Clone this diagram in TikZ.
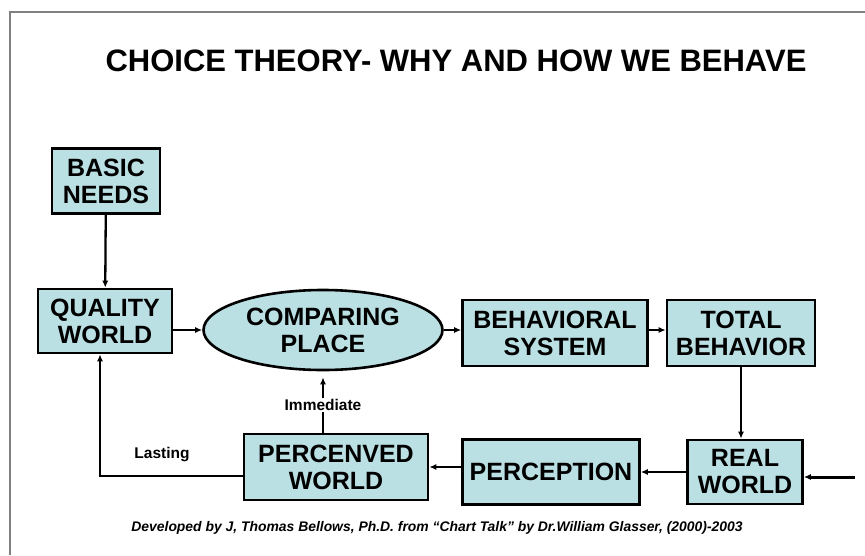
\documentclass[tikz,border=0pt]{standalone}
\usepackage{fontspec}
\setmainfont{Liberation Sans}
\usetikzlibrary{shapes.geometric,arrows.meta}
\definecolor{boxfill}{RGB}{186,224,227}
\definecolor{framegray}{RGB}{128,128,128}
\begin{document}
\begin{tikzpicture}[x=1pt,y=-1pt,
  stagebox/.style={draw=black,line width=2.6pt,fill=boxfill,inner sep=0pt,
    align=center,font=\bfseries\fontsize{25}{27}\selectfont},
  stageoval/.style={stagebox,ellipse},
  flow/.style={line width=2.3pt,-{Latex[length=7pt,width=6pt]}},
  plain/.style={line width=2.3pt},
  note/.style={font=\bfseries\fontsize{15.5}{17}\selectfont,inner sep=1pt}]
\useasboundingbox (0,0) rectangle (865,555);
% page frame
\draw[framegray,line width=2.2pt] (10,555) -- (10,12) -- (865,12);

% title and credit line
\node (title) at (456,61) {\bfseries\fontsize{31}{34}\selectfont CHOICE THEORY- WHY AND HOW WE BEHAVE};
\node (credit) at (437,528) {\bfseries\itshape\fontsize{13.9}{16}\selectfont Developed by J, Thomas Bellows, Ph.D. from “Chart Talk” by Dr.William Glasser, (2000)-2003};

% stages
\node[stagebox,minimum width=108,minimum height=65] (bn) at (106,181) {BASIC\\NEEDS};
\node[stagebox,minimum width=134,minimum height=64] (qw) at (105,321) {QUALITY\\WORLD};
\node[stageoval,minimum width=239,minimum height=80] (cmp) at (323,330) {COMPARING\\PLACE};
\node[stagebox,minimum width=185,minimum height=66] (bs) at (555,333) {BEHAVIORAL\\SYSTEM};
\node[stagebox,minimum width=148,minimum height=66] (tb) at (741,333) {TOTAL\\BEHAVIOR};
\node[stagebox,minimum width=115,minimum height=64] (rw) at (745,472) {REAL\\WORLD};
\node[stagebox,minimum width=177,minimum height=65] (pc) at (551,472) {PERCEPTION};
\node[stagebox,minimum width=184,minimum height=66] (pw) at (336,467) {PERCENVED\\WORLD};

% labels on the feedback paths
\node[note] (imm) at (323,405) {Immediate};
\node[note] (last) at (162,455) {Lasting};
\coordinate (ext) at (855,477);

% connectors
\draw[flow] (bn) -- (qw);
\draw[flow] (qw.east |- cmp.west) -- (cmp.west);
\draw[flow] (cmp.east) -- (cmp.east -| bs.west);
\draw[flow] (bs.east |- cmp.east) -- (tb.west |- cmp.east);
\draw[flow] (tb.south) -- (tb.south |- rw.north);
\draw[flow] (rw.west) -- (rw.west -| pc.east);
\draw[flow] (pw.east -| pc.west) -- (pw.east);
\draw[flow,line width=3pt] (ext) -- (ext -| rw.east);
\draw[plain] (pw.north -| imm) -- (imm.south);
\draw[flow,shorten >=6pt] (imm.north) -- (cmp.south);
\draw[flow] ([yshift=-9pt]pw.west) -| ([xshift=-5pt]qw.south);
\end{tikzpicture}
\end{document}
